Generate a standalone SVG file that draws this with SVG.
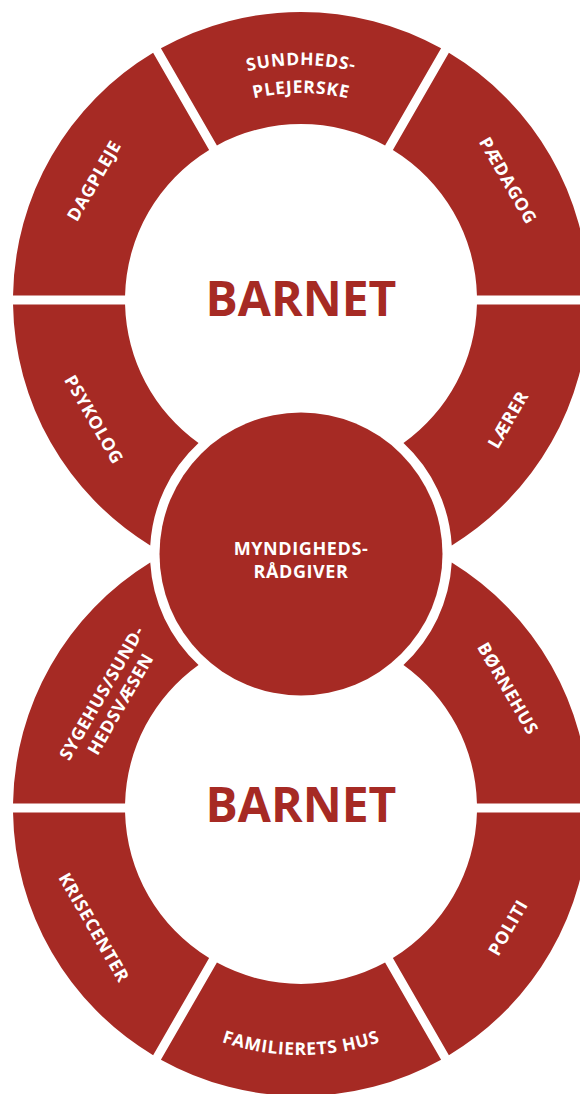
<svg xmlns="http://www.w3.org/2000/svg" width="580" height="1094" viewBox="0 0 580 1094">
<style>
.seg{fill:#A62A24;}
.lbl{font-family:"Open Sans","Liberation Sans",sans-serif;font-weight:700;font-size:17.5px;fill:#ffffff;letter-spacing:0.7px;}
.mid{font-family:"Open Sans","Liberation Sans",sans-serif;font-weight:700;font-size:18px;fill:#ffffff;letter-spacing:0.6px;}
.big{font-family:"Open Sans","Liberation Sans",sans-serif;font-weight:700;font-size:48px;fill:#A62A24;}
</style>
<defs>
<path id="arcS1" d="M 66 300 A 235 235 0 0 1 536 300"/>
<path id="arcS2" d="M 94 300 A 207 207 0 0 1 508 300"/>
<path id="arcF" d="M 54 808 A 247 247 0 0 0 548 808"/>
</defs>
<rect width="580" height="1094" fill="#ffffff"/>
<g id="connectors"></g>

<!-- top ring -->
<g id="dagpleje">
<path class="seg" d="M 153.12 52.87 A 288 288 0 0 0 13.03 295.5 L 125.06 295.5 A 176 176 0 0 1 209.13 149.88 Z"/>
<text class="lbl" text-anchor="middle" transform="translate(94,180.5) rotate(-60)" y="6.2">DAGPLEJE</text>
</g>
<g id="sundhedsplejerske">
<path class="seg" d="M 441.09 48.37 A 288 288 0 0 0 160.91 48.37 L 216.93 145.38 A 176 176 0 0 1 385.07 145.38 Z"/>
<text class="lbl" text-anchor="middle"><textPath href="#arcS1" startOffset="50%">SUNDHEDS-</textPath></text>
<text class="lbl" text-anchor="middle"><textPath href="#arcS2" startOffset="50%">PLEJERSKE</textPath></text>
</g>
<g id="paedagog">
<path class="seg" d="M 588.97 295.5 A 288 288 0 0 0 448.88 52.87 L 392.87 149.88 A 176 176 0 0 1 476.94 295.5 Z"/>
<text class="lbl" text-anchor="middle" transform="translate(508,180.5) rotate(60)" y="6.2">PÆDAGOG</text>
</g>
<g id="psykolog">
<path class="seg" d="M 13.03 304.5 A 288 288 0 0 0 150.24 545.39 A 151 151 0 0 1 198.53 443.09 A 176 176 0 0 1 125.06 304.5 Z"/>
<text class="lbl" text-anchor="middle" transform="translate(94,419.5) rotate(60)" y="6.2">PSYKOLOG</text>
</g>
<g id="laerer">
<path class="seg" d="M 588.97 304.5 A 288 288 0 0 1 451.76 545.39 A 151 151 0 0 0 403.47 443.09 A 176 176 0 0 0 476.94 304.5 Z"/>
<text class="lbl" text-anchor="middle" transform="translate(508,419.5) rotate(-60)" y="6.2">LÆRER</text>
</g>
<g id="barnet-top">
<text class="big" x="301" y="316" text-anchor="middle">BARNET</text>
</g>

<!-- middle -->
<g id="myndighedsraadgiver">
<circle class="seg" cx="301" cy="554" r="141.5"/>
<text class="mid" x="301" y="555" text-anchor="middle">MYNDIGHEDS-</text>
<text class="mid" x="301" y="578" text-anchor="middle">RÅDGIVER</text>
</g>

<!-- bottom ring -->
<g id="sygehus">
<path class="seg" d="M 13.03 803.5 A 288 288 0 0 1 150.24 562.61 A 151 151 0 0 0 198.53 664.91 A 176 176 0 0 0 125.06 803.5 Z"/>
<text class="lbl" text-anchor="middle" transform="translate(101.8,693) rotate(-60)" y="6.2">SYGEHUS/SUND-</text>
<text class="lbl" text-anchor="middle" transform="translate(120.5,704) rotate(-60)" y="6.2">HEDSVÆSEN</text>
</g>
<g id="boernehus">
<path class="seg" d="M 588.97 803.5 A 288 288 0 0 0 451.76 562.61 A 151 151 0 0 1 403.47 664.91 A 176 176 0 0 1 476.94 803.5 Z"/>
<text class="lbl" text-anchor="middle" transform="translate(508,688.5) rotate(60)" y="6.2">BØRNEHUS</text>
</g>
<g id="krisecenter">
<path class="seg" d="M 153.12 1055.13 A 288 288 0 0 1 13.03 812.5 L 125.06 812.5 A 176 176 0 0 0 209.13 958.12 Z"/>
<text class="lbl" text-anchor="middle" transform="translate(94,927.5) rotate(60)" y="6.2">KRISECENTER</text>
</g>
<g id="familierets-hus">
<path class="seg" d="M 441.09 1059.63 A 288 288 0 0 1 160.91 1059.63 L 216.93 962.62 A 176 176 0 0 0 385.07 962.62 Z"/>
<text class="lbl" text-anchor="middle"><textPath href="#arcF" startOffset="50%">FAMILIERETS HUS</textPath></text>
</g>
<g id="politi">
<path class="seg" d="M 588.97 812.5 A 288 288 0 0 1 448.88 1055.13 L 392.87 958.12 A 176 176 0 0 0 476.94 812.5 Z"/>
<text class="lbl" text-anchor="middle" transform="translate(508,927.5) rotate(-60)" y="6.2">POLITI</text>
</g>
<g id="barnet-bottom">
<text class="big" x="301" y="822" text-anchor="middle">BARNET</text>
</g>
</svg>
